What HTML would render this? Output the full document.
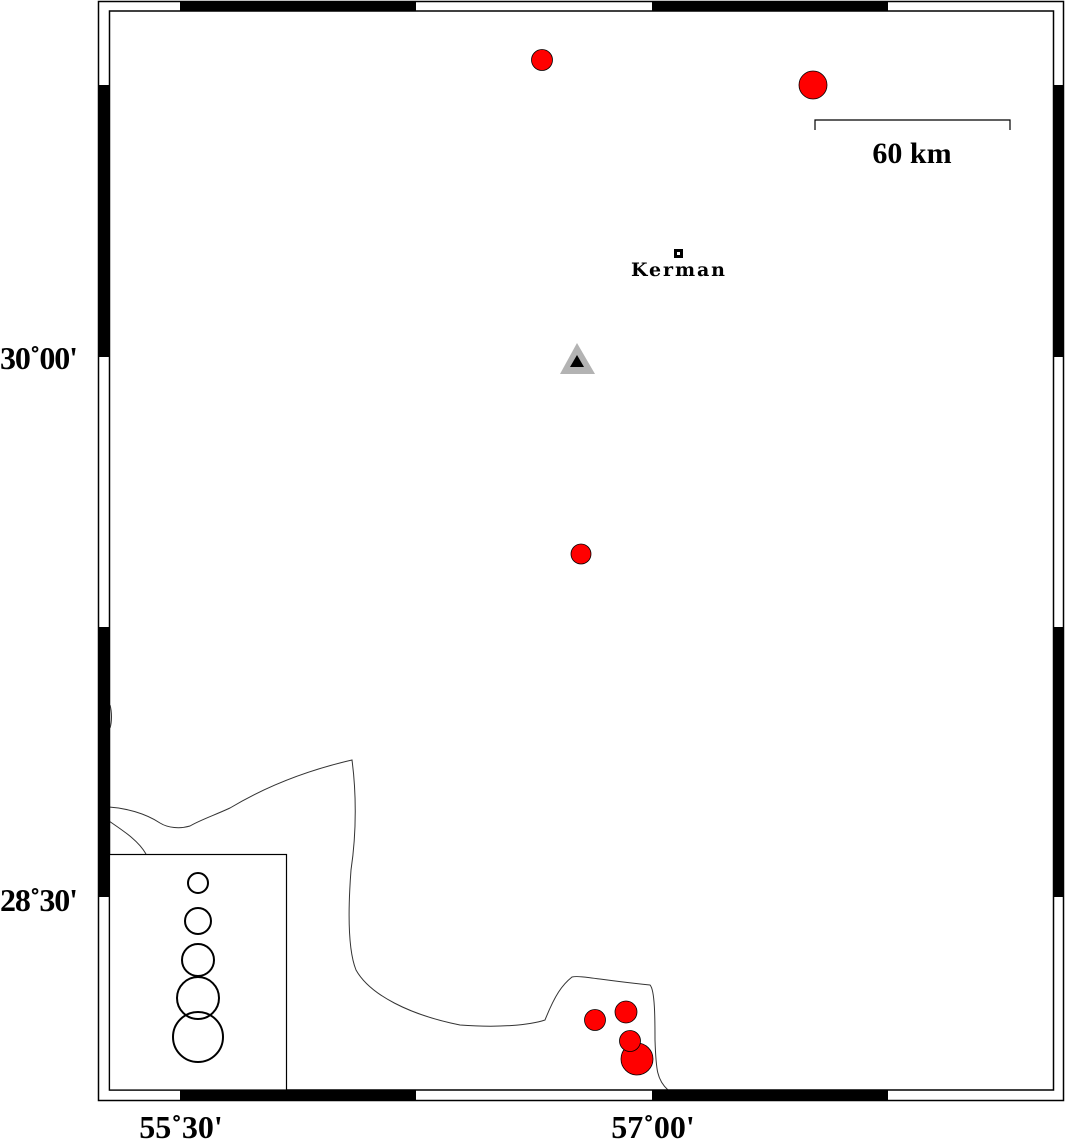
<!DOCTYPE html>
<html><head><style>html,body{margin:0;padding:0;background:#fff}svg{display:block}</style></head>
<body>
<svg width="1066" height="1139" viewBox="0 0 1066 1139" xmlns="http://www.w3.org/2000/svg">
<rect width="1066" height="1139" fill="#fff"/>
<g fill="none" stroke="#333" stroke-width="1">
<path d="M109,807 C125,808 145,813 160,823 C168,828 180,829 190,826 C200,820 215,815 230,808 C260,790 300,772 352,760 C356,790 357,830 351,870 C348,910 348,950 356,970 C370,995 410,1015 460,1025 C500,1028 530,1025 545,1020 C555,995 562,985 572,977 C580,975 600,980 650,985 C655,990 655,1020 655,1040 C656,1070 657,1080 668,1090"/>
<path d="M109,821 C122,830 138,840 146,854"/>
<path d="M110,705 C112,712 112,722 110,728"/>
</g>
<rect x="98.5" y="1.5" width="965" height="1099" fill="none" stroke="#000" stroke-width="1.5"/>
<rect x="109.5" y="11" width="944" height="1079" fill="none" stroke="#000" stroke-width="1.5"/>
<g fill="#000">
<rect x="180" y="1" width="236" height="10"/><rect x="652" y="1" width="236" height="10"/>
<rect x="180" y="1090" width="236" height="11"/><rect x="652" y="1090" width="236" height="11"/>
<rect x="98" y="85" width="11" height="272"/><rect x="98" y="627" width="11" height="270"/>
<rect x="1053" y="85" width="11" height="272"/><rect x="1053" y="627" width="11" height="270"/>
</g>
<rect x="109.5" y="854.5" width="177" height="235.5" fill="#fff" stroke="#000" stroke-width="1.2"/>
<g fill="none" stroke="#000" stroke-width="2">
<circle cx="198" cy="883" r="10"/><circle cx="198" cy="921" r="13"/><circle cx="198" cy="960" r="16"/><circle cx="198" cy="998" r="21"/><circle cx="198" cy="1037" r="25"/>
</g>
<g fill="#f00" stroke="#000" stroke-width="0.8">
<circle cx="542" cy="60" r="10.5"/><circle cx="813" cy="85" r="14"/><circle cx="581" cy="554" r="10"/>
<circle cx="595" cy="1020" r="10.5"/><circle cx="626" cy="1012" r="11"/>
<circle cx="637" cy="1059" r="16"/><circle cx="630" cy="1041" r="10.5"/>
</g>
<path d="M815,130 V120 H1010 V130" fill="none" stroke="#000" stroke-width="1.2"/>
<text x="912" y="163" font-family="Liberation Serif, serif" font-weight="bold" font-size="30" text-anchor="middle">60 km</text>
<rect x="674" y="249" width="9" height="9" fill="#000"/><rect x="677" y="252" width="3" height="3" fill="#fff"/>
<text x="678" y="276" font-family="DejaVu Serif, serif" font-weight="bold" font-size="19" text-anchor="middle" textLength="94">Kerman</text>
<polygon points="577,343 560,374 595,374" fill="#b3b3b3"/>
<polygon points="577,355 570,367 584,367" fill="#000"/>
<g font-family="Liberation Serif, serif" font-weight="bold" font-size="32">
<text x="0" y="369" textLength="78">30˚00'</text>
<text x="0" y="911" textLength="78">28˚30'</text>
<text x="181" y="1138" text-anchor="middle">55˚30'</text>
<text x="653" y="1138" text-anchor="middle">57˚00'</text>
</g>
</svg>
</body></html>
